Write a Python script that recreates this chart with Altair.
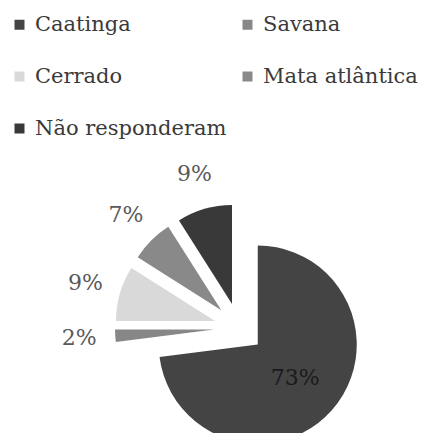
import altair as alt
import pandas as pd

names = ["Caatinga", "Savana", "Cerrado", "Mata atlântica", "Não responderam"]
values = [73, 2, 9, 7, 9]
labels = ["73%", "2%", "9%", "7%", "9%"]
colors = ["#444444", "#878787", "#d9d9d9", "#898989", "#393939"]

df = pd.DataFrame({"name": names, "value": values, "label": labels,
                   "idx": list(range(len(names)))})

CX, CY, EXPLODE, R = 231, 320, 25, 99

base = (
    alt.Chart(df)
    .transform_joinaggregate(total="sum(value)")
    .transform_window(cum="sum(value)", sort=[alt.SortField("idx")], frame=[None, 0])
    .transform_calculate(t0="2*PI*(datum.cum - datum.value)/datum.total")
    .transform_calculate(t1="2*PI*datum.cum/datum.total")
    .transform_calculate(mid="(datum.t0 + datum.t1)/2")
    .transform_calculate(ax=f"{CX} + {EXPLODE}*sin(datum.mid)")
    .transform_calculate(ay=f"{CY} - {EXPLODE}*cos(datum.mid)")
    .transform_calculate(lr="datum.value > 50 ? 75 : 160")
    .transform_calculate(lx=f"{CX} + datum.lr*sin(datum.mid)")
    .transform_calculate(ly=f"{CY} - datum.lr*cos(datum.mid)")
)

arcs = base.mark_arc(radius=R, strokeWidth=0).encode(
    x=alt.X("ax:Q", scale=None, axis=None),
    y=alt.Y("ay:Q", scale=None, axis=None),
    theta=alt.Theta("t0:Q", scale=None, stack=None),
    theta2=alt.Theta2("t1:Q"),
    color=alt.Color(
        "name:N",
        scale=alt.Scale(domain=names, range=colors),
        legend=alt.Legend(
            title=None,
            orient="none",
            direction="horizontal",
            legendX=1,
            legendY=6,
            columns=2,
            symbolType="square",
            symbolSize=100,
            symbolStrokeWidth=0,
            labelFont="DejaVu Serif",
            labelFontSize=21,
            labelColor="#3a3a3a",
            labelLimit=400,
            labelOffset=5,
            rowPadding=30,
            columnPadding=10,
        ),
    ),
    order=alt.Order("idx:Q"),
)

texts = base.mark_text(font="DejaVu Serif", fontSize=22).encode(
    x=alt.X("lx:Q", scale=None, axis=None),
    y=alt.Y("ly:Q", scale=None, axis=None),
    text="label:N",
    color=alt.condition("datum.value > 50", alt.value("#1a1a1a"), alt.value("#595959")),
)

chart = (
    alt.layer(arcs, texts)
    .properties(width=413, height=425, padding=0, autosize=alt.AutoSizeParams(type="none"))
    .configure_view(stroke=None)
)

chart.save("out.html", embed_options={"renderer": "svg", "actions": False})
